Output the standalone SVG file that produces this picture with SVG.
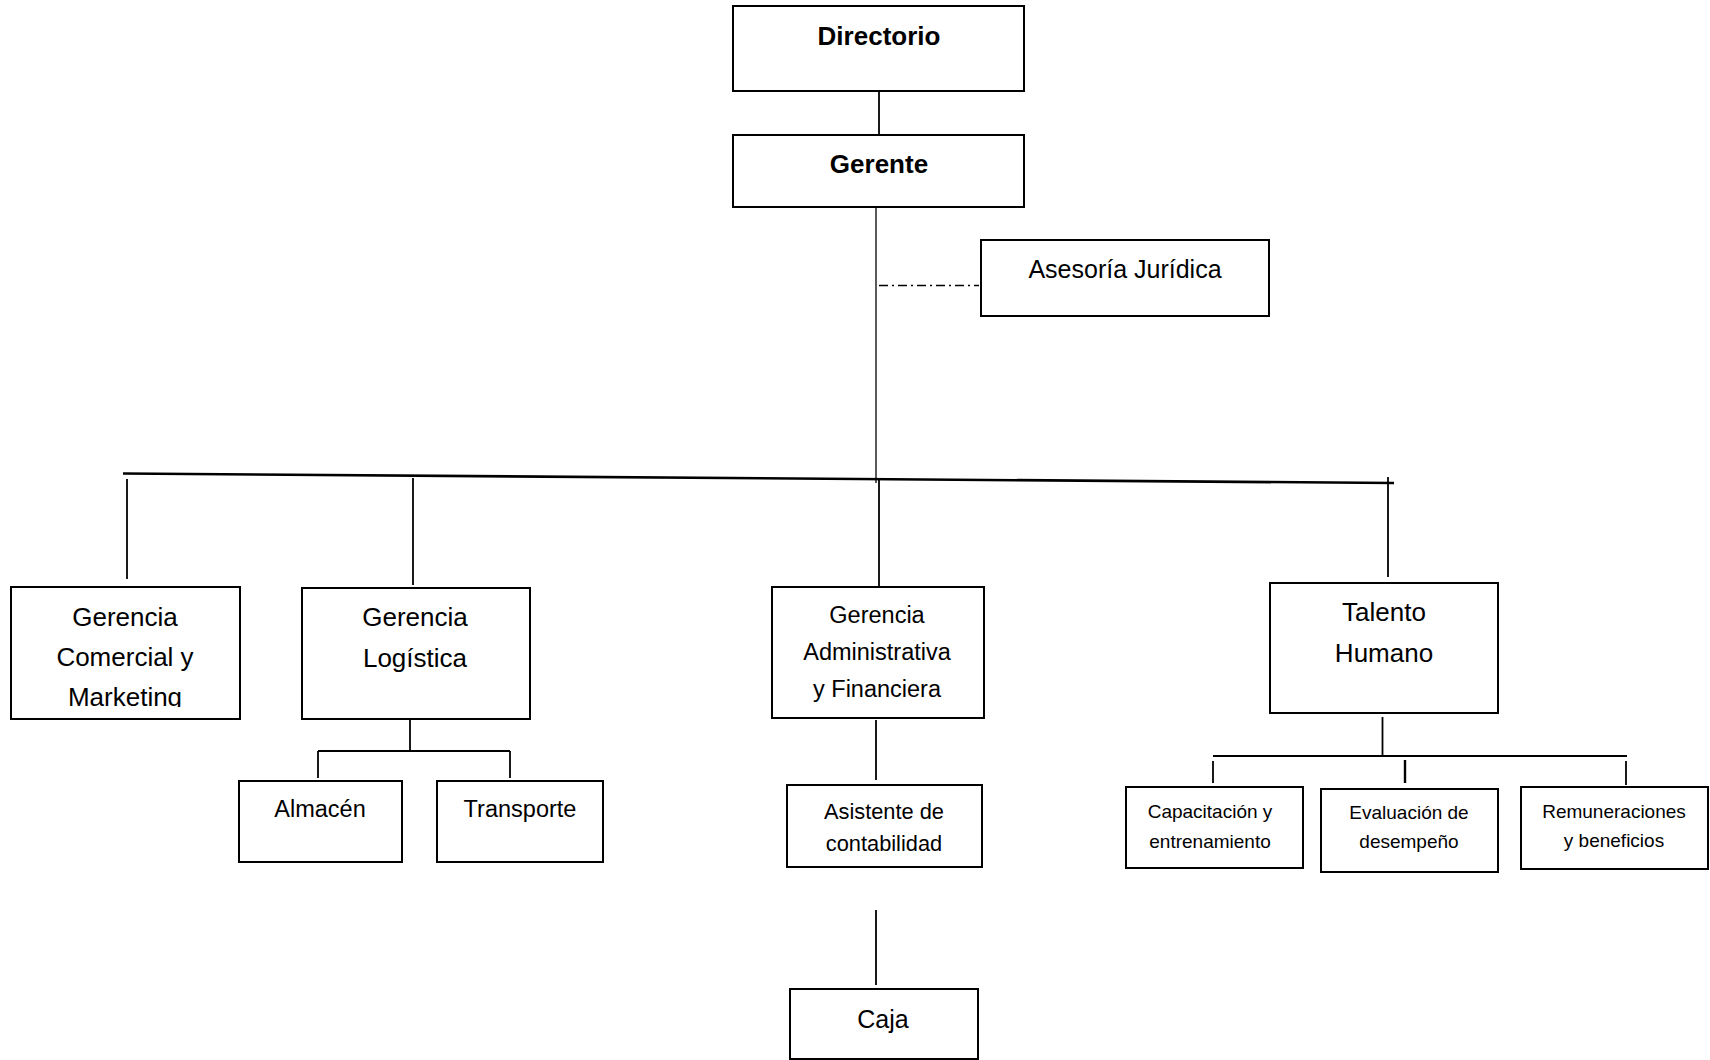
<svg xmlns="http://www.w3.org/2000/svg" width="1710" height="1060" viewBox="0 0 1710 1060">
<defs>
<style>
.box{fill:#fff;stroke:#000;stroke-width:2}
.ln{stroke:#000;stroke-width:1.8;fill:none}
.thin{stroke:#000;stroke-width:1.3;fill:none}
text{font-family:"Liberation Sans",Arial,sans-serif;fill:#000;text-anchor:middle}
.b{font-weight:bold;font-size:26px}
.t26{font-size:26px}
.t25{font-size:25px}
.t235{font-size:23.5px}
.t22{font-size:21.8px}
.t19{font-size:19px}
</style>
<clipPath id="clipMk"><rect x="11" y="587" width="229" height="120"/></clipPath>
</defs>
<rect width="1710" height="1060" fill="#fff"/>
<g id="connectors">
<line class="ln" x1="879" y1="91" x2="879" y2="135"/>
<line class="thin" x1="876" y1="207" x2="876" y2="483"/>
<line class="thin" x1="879" y1="285.5" x2="979" y2="285.5" stroke-dasharray="9 4 2 4"/>
<line x1="123" y1="473.5" x2="1394" y2="483" stroke="#000" stroke-width="2.6"/>
<line class="ln" x1="127" y1="479" x2="127" y2="579"/>
<line class="ln" x1="413" y1="478" x2="413" y2="585"/>
<line class="ln" x1="879" y1="479" x2="879" y2="586"/>
<line class="ln" x1="1388" y1="477" x2="1388" y2="577"/>
<line class="ln" x1="410" y1="716" x2="410" y2="751"/>
<line class="ln" x1="318" y1="751" x2="510" y2="751"/>
<line class="ln" x1="318" y1="751" x2="318" y2="778"/>
<line class="ln" x1="510" y1="751" x2="510" y2="778"/>
<line class="ln" x1="876" y1="720" x2="876" y2="780"/>
<line class="ln" x1="876" y1="910" x2="876" y2="985"/>
<line class="ln" x1="1382.5" y1="717" x2="1382.5" y2="756"/>
<line class="ln" x1="1213" y1="756" x2="1627" y2="756"/>
<line class="ln" x1="1213" y1="761" x2="1213" y2="783"/>
<line x1="1405" y1="760" x2="1405" y2="783" stroke="#000" stroke-width="2.4"/>
<line class="ln" x1="1626" y1="761" x2="1626" y2="785"/>
</g>
<g id="directorio">
<rect class="box" x="733" y="6" width="291" height="85"/>
<text class="b" x="879" y="45">Directorio</text>
</g>
<g id="gerente">
<rect class="box" x="733" y="135" width="291" height="72"/>
<text class="b" x="879" y="173">Gerente</text>
</g>
<g id="asesoria">
<rect class="box" x="981" y="240" width="288" height="76"/>
<text class="t25" x="1125" y="278">Asesoría Jurídica</text>
</g>
<g id="comercial">
<rect class="box" x="11" y="587" width="229" height="132"/>
<text class="t26" x="125" y="626">Gerencia</text>
<text class="t26" x="125" y="666">Comercial y</text>
<text class="t26" x="125" y="706" clip-path="url(#clipMk)">Marketing</text>
</g>
<g id="logistica">
<rect class="box" x="302" y="588" width="228" height="131"/>
<text class="t26" x="415" y="626">Gerencia</text>
<text class="t26" x="415" y="667">Logística</text>
</g>
<g id="almacen">
<rect class="box" x="239" y="781" width="163" height="81"/>
<text class="t235" x="320" y="817">Almacén</text>
</g>
<g id="transporte">
<rect class="box" x="437" y="781" width="166" height="81"/>
<text class="t235" x="520" y="817">Transporte</text>
</g>
<g id="administrativa">
<rect class="box" x="772" y="587" width="212" height="131"/>
<text class="t235" x="877" y="623">Gerencia</text>
<text class="t235" x="877" y="660">Administrativa</text>
<text class="t235" x="877" y="697">y Financiera</text>
</g>
<g id="asistente">
<rect class="box" x="787" y="785" width="195" height="82"/>
<text class="t22" x="884" y="819">Asistente de</text>
<text class="t22" x="884" y="851">contabilidad</text>
</g>
<g id="caja">
<rect class="box" x="790" y="989" width="188" height="70"/>
<text class="t25" x="883" y="1028">Caja</text>
</g>
<g id="talento">
<rect class="box" x="1270" y="583" width="228" height="130"/>
<text class="t26" x="1384" y="621">Talento</text>
<text class="t26" x="1384" y="662">Humano</text>
</g>
<g id="capacitacion">
<rect class="box" x="1126" y="787" width="177" height="81"/>
<text class="t19" x="1210" y="818">Capacitación y</text>
<text class="t19" x="1210" y="848">entrenamiento</text>
</g>
<g id="evaluacion">
<rect class="box" x="1321" y="789" width="177" height="83"/>
<text class="t19" x="1409" y="819">Evaluación de</text>
<text class="t19" x="1409" y="848">desempeño</text>
</g>
<g id="remuneraciones">
<rect class="box" x="1521" y="787" width="187" height="82"/>
<text class="t19" x="1614" y="818">Remuneraciones</text>
<text class="t19" x="1614" y="847">y beneficios</text>
</g>
</svg>
